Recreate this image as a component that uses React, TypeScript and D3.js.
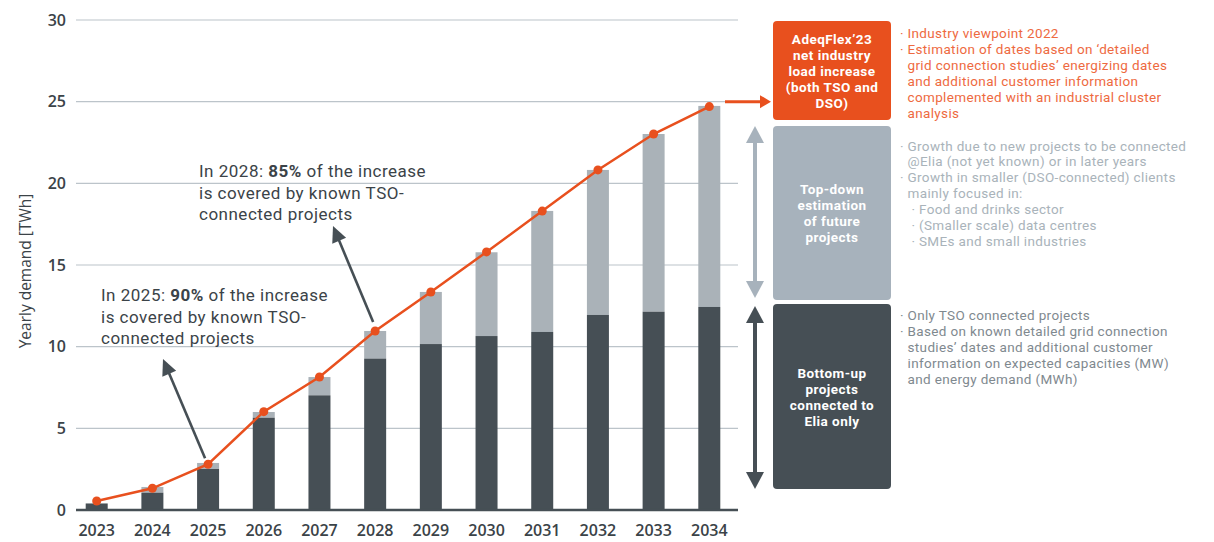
import React from "react";
import * as d3 from "d3";

const years = [2023, 2024, 2025, 2026, 2027, 2028, 2029, 2030, 2031, 2032, 2033, 2034];
const bottomUp = [0.4, 1.06, 2.51, 5.65, 7.02, 9.27, 10.16, 10.65, 10.9, 11.94, 12.14, 12.43];
const totalBars = [0.4, 1.41, 2.88, 6.0, 8.14, 10.96, 13.35, 15.78, 18.31, 20.82, 23.02, 24.74];
const adeqFlex = [0.55, 1.33, 2.8, 6.02, 8.14, 10.96, 13.35, 15.8, 18.3, 20.82, 23.02, 24.7];
const yTicks = [0, 5, 10, 15, 20, 25, 30];

const boxOrangeLines = ["AdeqFlex\u201923", "net industry", "load increase", "(both TSO and", "DSO)"];
const boxGrayLines = ["Top-down", "estimation", "of future", "projects"];
const boxDarkLines = ["Bottom-up", "projects", "connected to", "Elia only"];

const orangeNotes = [
  { b: true, t: "Industry viewpoint 2022", ind: 0 },
  { b: true, t: "Estimation of dates based on \u2018detailed", ind: 0 },
  { b: false, t: "grid connection studies\u2019 energizing dates", ind: 0 },
  { b: false, t: "and additional customer information", ind: 0 },
  { b: false, t: "complemented with an industrial cluster", ind: 0 },
  { b: false, t: "analysis", ind: 0 },
];
const grayNotes = [
  { b: true, t: "Growth due to new projects to be connected", ind: 0 },
  { b: false, t: "@Elia (not yet known) or in later years", ind: 0 },
  { b: true, t: "Growth in smaller (DSO-connected) clients", ind: 0 },
  { b: false, t: "mainly focused in:", ind: 0 },
  { b: true, t: "Food and drinks sector", ind: 1 },
  { b: true, t: "(Smaller scale) data centres", ind: 1 },
  { b: true, t: "SMEs and small industries", ind: 1 },
];
const darkNotes = [
  { b: true, t: "Only TSO connected projects", ind: 0 },
  { b: true, t: "Based on known detailed grid connection", ind: 0 },
  { b: false, t: "studies\u2019 dates and additional customer", ind: 0 },
  { b: false, t: "information on expected capacities (MW)", ind: 0 },
  { b: false, t: "and energy demand (MWh)", ind: 0 },
];

const C = {
  dark: "#464f55",
  light: "#aab2b8",
  orange: "#e8501e",
  orangeText: "#ee6a3f",
  grayBox: "#a7b2bc",
  grayText: "#a9b3ba",
  darkText: "#7f898f",
  grid: "#bcc4ca",
  axisText: "#3b4348",
};
const FONT = "'Open Sans', sans-serif";
const FONT2 = "Roboto, sans-serif";

function arrowHead(x1: number, y1: number, x2: number, y2: number, len: number, half: number) {
  const a = Math.atan2(y2 - y1, x2 - x1);
  const bx = x2 - len * Math.cos(a);
  const by = y2 - len * Math.sin(a);
  const px = -Math.sin(a) * half;
  const py = Math.cos(a) * half;
  return `M${x2},${y2}L${bx + px},${by + py}L${bx - px},${by - py}Z`;
}

function Arrow({ x1, y1, x2, y2, color, width, len, half }: any) {
  const a = Math.atan2(y2 - y1, x2 - x1);
  const ex = x2 - (len - 1) * Math.cos(a);
  const ey = y2 - (len - 1) * Math.sin(a);
  return (
    <g>
      <line x1={x1} y1={y1} x2={ex} y2={ey} stroke={color} strokeWidth={width} />
      <path d={arrowHead(x1, y1, x2, y2, len, half)} fill={color} />
    </g>
  );
}

function DoubleArrow({ x, y1, y2, color }: any) {
  const len = 17, half = 9;
  return (
    <g>
      <line x1={x} y1={y1 + len - 1} x2={x} y2={y2 - len + 1} stroke={color} strokeWidth={4} />
      <path d={arrowHead(x, y2, x, y1, len, half)} fill={color} />
      <path d={arrowHead(x, y1, x, y2, len, half)} fill={color} />
    </g>
  );
}

function Notes({ x, y0, dy, items, color }: any) {
  return (
    <text fill={color} fontFamily={FONT2} fontSize={13.5} letterSpacing={0.35}>
      {items.map((it: any, i: number) => (
        <React.Fragment key={i}>
          {it.b && (
            <tspan x={x + it.ind * 11.5} y={y0 + i * dy}>
              {"\u00b7"}
            </tspan>
          )}
          <tspan x={x + 7.5 + it.ind * 11.5} y={y0 + i * dy}>
            {it.t}
          </tspan>
        </React.Fragment>
      ))}
    </text>
  );
}

function BoxText({ cx, y0, lines }: any) {
  return (
    <text fontFamily={FONT2} fontWeight={700} fontSize={13.5} letterSpacing={0.45} fill="#fff" textAnchor="middle">
      {lines.map((t: string, i: number) => (
        <tspan key={t} x={cx} y={y0 + i * 16}>
          {t}
        </tspan>
      ))}
    </text>
  );
}

function Annotation({ x, y0, year, pct }: any) {
  return (
    <text fontFamily={FONT2} fontSize={17} letterSpacing={0.5} fill={C.axisText}>
      <tspan x={x} y={y0}>
        {`In ${year}: `}
        <tspan fontWeight={700}>{pct}</tspan>
        {" of the increase"}
      </tspan>
      <tspan x={x} y={y0 + 21.5}>is covered by known TSO-</tspan>
      <tspan x={x} y={y0 + 43}>connected projects</tspan>
    </text>
  );
}

export default function App() {
  const y = d3.scaleLinear().domain([0, 30]).range([510, 20]);
  const x = d3.scaleBand<number>().domain(years).range([85.7, 720.3]).paddingInner(0.605).paddingOuter(0);
  const bw = x.bandwidth();
  const cx = (yr: number) => (x(yr) as number) + bw / 2;
  const gridX0 = 76, gridX1 = 738;

  const line = d3
    .line<number>()
    .x((_, i) => cx(years[i]))
    .y((d) => y(d));

  const boxX = 773, boxW = 118;
  const i25 = years.indexOf(2025), i28 = years.indexOf(2028);

  return (
    <div style={{ position: "absolute", left: 0, top: 0 }}>
      <svg width={1214} height={542} style={{ display: "block", background: "#fff" }}>
        {/* grid */}
        {yTicks.filter((t) => t > 0).map((t) => (
          <line key={t} x1={gridX0} x2={gridX1} y1={y(t)} y2={y(t)} stroke={C.grid} strokeWidth={1.2} />
        ))}
        {/* y tick labels */}
        {yTicks.map((t) => (
          <text key={t} x={66} y={y(t)} dy="0.36em" textAnchor="end" fontFamily={FONT} fontWeight={600} fontSize={16} fill={C.axisText}>
            {t}
          </text>
        ))}
        <text transform="translate(31,271) rotate(-90)" textAnchor="middle" fontFamily={FONT} fontSize={15.5} fill={C.axisText}>
          Yearly demand [TWh]
        </text>
        {/* bars */}
        {years.map((yr, i) => (
          <g key={yr}>
            <rect x={x(yr)} width={bw} y={y(totalBars[i])} height={y(bottomUp[i]) - y(totalBars[i])} fill={C.light} />
            <rect x={x(yr)} width={bw} y={y(bottomUp[i])} height={y(0) - y(bottomUp[i])} fill={C.dark} />
          </g>
        ))}
        {/* baseline */}
        <line x1={gridX0} x2={gridX1} y1={y(0)} y2={y(0)} stroke={C.dark} strokeWidth={2.5} />
        {/* x labels */}
        {years.map((yr) => (
          <text key={yr} x={cx(yr)} y={536} textAnchor="middle" fontFamily={FONT} fontWeight={600} fontSize={16} fill={C.axisText}>
            {yr}
          </text>
        ))}
        {/* line */}
        <path d={line(adeqFlex) || ""} fill="none" stroke={C.orange} strokeWidth={2.5} />
        {adeqFlex.map((v, i) => (
          <circle key={i} cx={cx(years[i])} cy={y(v)} r={4.5} fill={C.orange} />
        ))}
        {/* annotation arrows */}
        <Arrow x1={cx(years[i25]) - 3} y1={y(adeqFlex[i25]) - 6} x2={163} y2={359} color={C.dark} width={2.6} len={16} half={7.5} />
        <Arrow x1={cx(years[i28]) - 2} y1={y(adeqFlex[i28]) - 9} x2={333} y2={226} color={C.dark} width={2.6} len={16} half={7.5} />
        {/* annotation texts */}
        <Annotation x={101} y0={301} year={2025} pct="90%" />
        <Annotation x={199} y0={177} year={2028} pct="85%" />
        {/* right side */}
        <Arrow x1={725} y1={y(25)} x2={771} y2={y(25)} color={C.orange} width={3} len={11} half={6.5} />
        <DoubleArrow x={755} y1={126} y2={298} color={C.grayBox} />
        <DoubleArrow x={755} y1={306} y2={489} color={C.dark} />

        <rect x={boxX} y={21} width={boxW} height={99} rx={4} fill={C.orange} />
        <rect x={boxX} y={126} width={boxW} height={174} rx={4} fill={C.grayBox} />
        <rect x={boxX} y={304} width={boxW} height={185} rx={4} fill={C.dark} />

        <BoxText cx={boxX + boxW / 2} y0={44} lines={boxOrangeLines} />
        <BoxText cx={boxX + boxW / 2} y0={194} lines={boxGrayLines} />
        <BoxText cx={boxX + boxW / 2} y0={378} lines={boxDarkLines} />

        <Notes x={900} y0={38} dy={16} items={orangeNotes} color={C.orangeText} />
        <Notes x={900} y0={150.5} dy={15.85} items={grayNotes} color={C.grayText} />
        <Notes x={900} y0={320} dy={16} items={darkNotes} color={C.darkText} />
      </svg>
    </div>
  );
}
